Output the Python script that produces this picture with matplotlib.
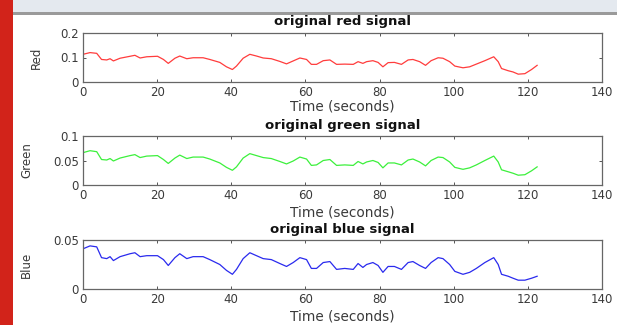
import matplotlib.pyplot as plt
from matplotlib.patches import Rectangle

plt.rcParams['font.family'] = ['DejaVu Sans']

# time axis (seconds)
tempo = [0, 1.9, 3.7, 5, 6.4, 7.3, 8.2, 10, 12.7, 14,
         15.4, 17.2, 20.1, 21.7, 23, 24.8, 26.1, 28, 29.7, 32.4,
         34.2, 36.9, 38.7, 40.3, 41.4, 43.2, 45, 46.8, 48.6, 50.8,
         53.1, 54.9, 56.7, 58.5, 60.3, 61.6, 63, 64.8, 66.6, 68.4,
         70.6, 72.9, 74.2, 75.5, 76.5, 78.2, 79.6, 80.9, 82.3, 84,
         85.9, 87.7, 89, 90.8, 92.4, 93.9, 95.8, 97.1, 98.9, 100.3,
         102.5, 104.3, 106.1, 108.4, 110.8, 112, 112.9, 114.7, 116, 117.4,
         119.2, 121, 122.5]

vermelho = [0.113, 0.12, 0.117, 0.092, 0.09, 0.095, 0.086, 0.097, 0.105, 0.109,
            0.098, 0.103, 0.105, 0.092, 0.076, 0.097, 0.106, 0.095, 0.099, 0.099,
            0.092, 0.08, 0.062, 0.051, 0.065, 0.097, 0.113, 0.106, 0.098, 0.095,
            0.084, 0.074, 0.086, 0.098, 0.092, 0.072, 0.072, 0.087, 0.09, 0.072,
            0.073, 0.072, 0.083, 0.076, 0.083, 0.087, 0.08, 0.062, 0.079, 0.08,
            0.072, 0.09, 0.092, 0.083, 0.068, 0.087, 0.099, 0.097, 0.083, 0.065,
            0.058, 0.062, 0.073, 0.087, 0.103, 0.083, 0.055, 0.046, 0.041, 0.032,
            0.034, 0.051, 0.068]

verde = [0.066, 0.070, 0.068, 0.052, 0.051, 0.054, 0.049, 0.055, 0.060, 0.062,
         0.056, 0.059, 0.060, 0.052, 0.044, 0.055, 0.061, 0.054, 0.057, 0.057,
         0.053, 0.045, 0.036, 0.030, 0.037, 0.055, 0.064, 0.060, 0.056, 0.054,
         0.048, 0.043, 0.049, 0.057, 0.053, 0.040, 0.041, 0.050, 0.052, 0.040,
         0.041, 0.040, 0.048, 0.043, 0.047, 0.050, 0.046, 0.035, 0.045, 0.045,
         0.041, 0.051, 0.053, 0.047, 0.039, 0.050, 0.057, 0.056, 0.047, 0.036,
         0.032, 0.035, 0.041, 0.050, 0.059, 0.047, 0.031, 0.027, 0.024, 0.020,
         0.021, 0.029, 0.037]

azul = [0.041, 0.044, 0.043, 0.032, 0.031, 0.033, 0.029, 0.033, 0.036, 0.037,
        0.033, 0.034, 0.034, 0.030, 0.024, 0.032, 0.036, 0.031, 0.033, 0.033,
        0.030, 0.025, 0.019, 0.015, 0.020, 0.031, 0.037, 0.034, 0.031, 0.030,
        0.026, 0.023, 0.027, 0.032, 0.030, 0.021, 0.021, 0.027, 0.028, 0.020,
        0.021, 0.020, 0.026, 0.022, 0.025, 0.027, 0.024, 0.017, 0.023, 0.023,
        0.020, 0.027, 0.028, 0.024, 0.021, 0.027, 0.032, 0.031, 0.025, 0.018,
        0.015, 0.017, 0.021, 0.027, 0.032, 0.025, 0.015, 0.013, 0.011, 0.009,
        0.009, 0.011, 0.013]

xticks = [0, 20, 40, 60, 80, 100, 120, 140]

paineis = [
    ('original red signal', 'Red', vermelho, '#ff3c3c', [0, 0.1, 0.2], ['0', '0.1', '0.2'], 0.2),
    ('original green signal', 'Green', verde, '#3cf03c', [0, 0.05, 0.1], ['0', '0.05', '0.1'], 0.1),
    ('original blue signal', 'Blue', azul, '#2a2aee', [0, 0.05], ['0', '0.05'], 0.05),
]

W, H = 617, 325
fig = plt.figure(figsize=(W / 100, H / 100), dpi=100)
fig.patch.set_facecolor('white')

# slide decorations: header band, separator, red side bar
fig.add_artist(Rectangle((13 / W, 1 - 12 / H), 1, 12 / H, transform=fig.transFigure,
                         facecolor='#e4e9ef', edgecolor='none'))
fig.add_artist(Rectangle((13 / W, 1 - 14.5 / H), 1, 2.5 / H, transform=fig.transFigure,
                         facecolor='#9a9a9a', edgecolor='none'))
fig.add_artist(Rectangle((0, 0), 13 / W, 1, transform=fig.transFigure,
                         facecolor='#d2231a', edgecolor='none'))

topos = [33, 136, 240]
esq, dir_ = 83, 602
altura = 49
cor_texto = '#3a3a3a'
# pixel offsets of the texts, per panel
tit_px = [12, 11, 11]
xlab_px = [17, 20, 21]
ylab_px = [-40, -50, -50]

for i, ((titulo, ylab, dados, cor, yt, ytl, ymax), topo) in enumerate(zip(paineis, topos)):
    ax = fig.add_axes([esq / W, 1 - (topo + altura) / H, (dir_ - esq) / W, altura / H])
    ax.plot(tempo, dados, color=cor, lw=0.9)
    ax.set_xlim(0, 140)
    ax.set_ylim(0, ymax)
    ax.set_xticks(xticks)
    ax.set_xticklabels([str(v) for v in xticks])
    ax.set_yticks(yt)
    ax.set_yticklabels(ytl)
    ax.tick_params(direction='in', length=2.5, width=0.7, top=True, right=True,
                   labelsize=8.5, colors='#555555', labelcolor=cor_texto, pad=3)
    for s in ax.spines.values():
        s.set_color('#666666')
        s.set_linewidth(0.9)
    ax.text(0.5, 1 + tit_px[i] / altura, titulo, transform=ax.transAxes,
            ha='center', va='center', fontsize=9.5, fontweight='bold', color='#111111')
    ax.set_xlabel('Time (seconds)', fontsize=9.8, color=cor_texto)
    ax.xaxis.set_label_coords(0.5, -xlab_px[i] / altura)
    ax.set_ylabel(ylab, fontsize=8.5, color=cor_texto)
    ax.yaxis.set_label_coords(ylab_px[i] / (dir_ - esq), 0.5)

plt.savefig('out.png', dpi=100)
